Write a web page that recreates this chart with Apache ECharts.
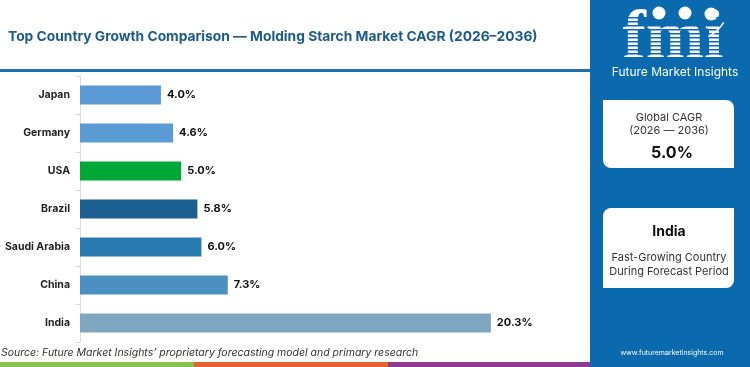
<!DOCTYPE html>
<html>
<head>
<meta charset="utf-8">
<script src="https://cdn.jsdelivr.net/npm/echarts@6/dist/echarts.min.js"></script>
<style>
    html, body { margin: 0; padding: 0; background: #fff; }
    #chart { width: 750px; height: 367px; }
</style>
</head>
<body>
<div id="chart"></div>
<script>
    // data
    var countries = ['Japan', 'Germany', 'USA', 'Brazil', 'Saudi Arabia', 'China', 'India'];
    var cagrValues = [4.0, 4.6, 5.0, 5.8, 6.0, 7.3, 20.3];
    var barColors = ['#5b9bd5', '#5b9bd5', '#00a838', '#1a5e92', '#2a7ab2', '#4a8fbf', '#7fa6c0'];

    var globalCagr = '5.0%';
    var topCountry = 'India';

    var chart = echarts.init(document.getElementById('chart'));
    var panelBlue = '#0b6aad';
    var font = 'Inter, "Open Sans", sans-serif';

    // logo stripes across the fmi letters
    var stripes = [];
    for (var y = 17; y < 62; y += 4) {
        stripes.push({
            type: 'rect',
            shape: { x: 610, y: y, width: 128, height: 1.4 },
            style: { fill: panelBlue },
            z: 20
        });
    }

    var graphics = [
        // right panel
        { type: 'rect', shape: { x: 590, y: 0, width: 160, height: 367 }, style: { fill: panelBlue }, z: 1 },
        // title underline
        { type: 'rect', shape: { x: 0, y: 69, width: 590, height: 3 }, style: { fill: '#1f6fa8' }, z: 1 },
        // bottom color strip
        { type: 'rect', shape: { x: 0, y: 362, width: 194, height: 5 }, style: { fill: '#8bc34a' }, z: 1 },
        { type: 'rect', shape: { x: 194, y: 362, width: 194, height: 5 }, style: { fill: '#e8632b' }, z: 1 },
        { type: 'rect', shape: { x: 388, y: 362, width: 202, height: 5 }, style: { fill: '#8e3b8f' }, z: 1 },
        // title
        {
            type: 'text', left: 8, top: 30, z: 5,
            style: { text: 'Top Country Growth Comparison \u2014 Molding Starch Market CAGR (2026\u20132036)', fill: '#1b5b8c', font: 'bold 13.8px ' + font }
        },
        // source
        {
            type: 'text', left: 1, top: 347, z: 5,
            style: { text: 'Source: Future Market Insights\u2019 proprietary forecasting model and primary research', fill: '#333', font: 'italic 10.5px ' + font }
        },
        // logo
        {
            type: 'text', x: 673, y: 75, z: 10,
            style: { text: 'fmi', fill: '#fff', font: 'bold 70px "Liberation Serif", serif', textAlign: 'center', textVerticalAlign: 'bottom' }
        },
        { type: 'circle', shape: { cx: 659, cy: 13, r: 6.5 }, style: { fill: '#fff' }, z: 21 },
        { type: 'circle', shape: { cx: 685, cy: 13, r: 6.5 }, style: { fill: '#fff' }, z: 21 },
        { type: 'circle', shape: { cx: 711, cy: 14, r: 6.5 }, style: { fill: '#fff' }, z: 21 },
        { type: 'arc', shape: { cx: 690, cy: 1, r: 40, startAngle: Math.PI * 0.18, endAngle: Math.PI * 0.35 }, style: { stroke: '#fff', lineWidth: 1.5, fill: null }, z: 21 },
        {
            type: 'text', x: 675, y: 72, z: 22,
            style: { text: 'Future Market Insights', fill: '#fff', font: '12px ' + font, textAlign: 'center', textVerticalAlign: 'middle' }
        },
        // global CAGR box
        { type: 'rect', shape: { x: 603, y: 100, width: 131, height: 68, r: [0, 8, 0, 8] }, style: { fill: '#fff' }, z: 5 },
        { type: 'text', x: 669, y: 118, z: 6, style: { text: 'Global CAGR', fill: '#333', font: '11px ' + font, textAlign: 'center', textVerticalAlign: 'middle' } },
        { type: 'text', x: 669, y: 131, z: 6, style: { text: '(2026 \u2014 2036)', fill: '#333', font: '11px ' + font, textAlign: 'center', textVerticalAlign: 'middle' } },
        { type: 'text', x: 672, y: 153, z: 6, style: { text: globalCagr, fill: '#111', font: 'bold 16px ' + font, textAlign: 'center', textVerticalAlign: 'middle' } },
        // top country box
        { type: 'rect', shape: { x: 603, y: 208, width: 131, height: 80, r: [8, 0, 8, 0] }, style: { fill: '#fff' }, z: 5 },
        { type: 'text', x: 669, y: 232, z: 6, style: { text: topCountry, fill: '#111', font: 'bold 14px ' + font, textAlign: 'center', textVerticalAlign: 'middle' } },
        { type: 'text', x: 669, y: 258, z: 6, style: { text: 'Fast-Growing Country', fill: '#333', font: '11px ' + font, textAlign: 'center', textVerticalAlign: 'middle' } },
        { type: 'text', x: 669, y: 272, z: 6, style: { text: 'During Forecast Period', fill: '#333', font: '11px ' + font, textAlign: 'center', textVerticalAlign: 'middle' } },
        // website
        { type: 'text', x: 672, y: 353, z: 6, style: { text: 'www.futuremarketinsights.com', fill: '#fff', font: '7px ' + font, textAlign: 'center', textVerticalAlign: 'middle' } }
    ].concat(stripes);

    var option = {
        animation: false,
        backgroundColor: '#fff',
        grid: { left: 80, right: 164, top: 76, bottom: 25 },
        xAxis: {
            type: 'value',
            min: 0,
            max: 25,
            show: false
        },
        yAxis: {
            type: 'category',
            inverse: true,
            data: countries,
            axisLine: { show: true, lineStyle: { color: '#ddd' } },
            axisTick: { show: true, length: 5, lineStyle: { color: '#ddd' } },
            axisLabel: { color: '#222', fontWeight: 'bold', fontSize: 10.5, fontFamily: font, margin: 10 }
        },
        series: [{
            type: 'bar',
            barWidth: 19,
            data: cagrValues.map(function (v, i) {
                return { value: v, itemStyle: { color: barColors[i] } };
            }),
            label: {
                show: true,
                position: 'right',
                distance: 6,
                color: '#111',
                fontWeight: 'bold',
                fontSize: 11,
                fontFamily: font,
                formatter: function (p) { return p.value.toFixed(1) + '%'; }
            }
        }],
        graphic: graphics
    };

    chart.setOption(option);
</script>
</body>
</html>
